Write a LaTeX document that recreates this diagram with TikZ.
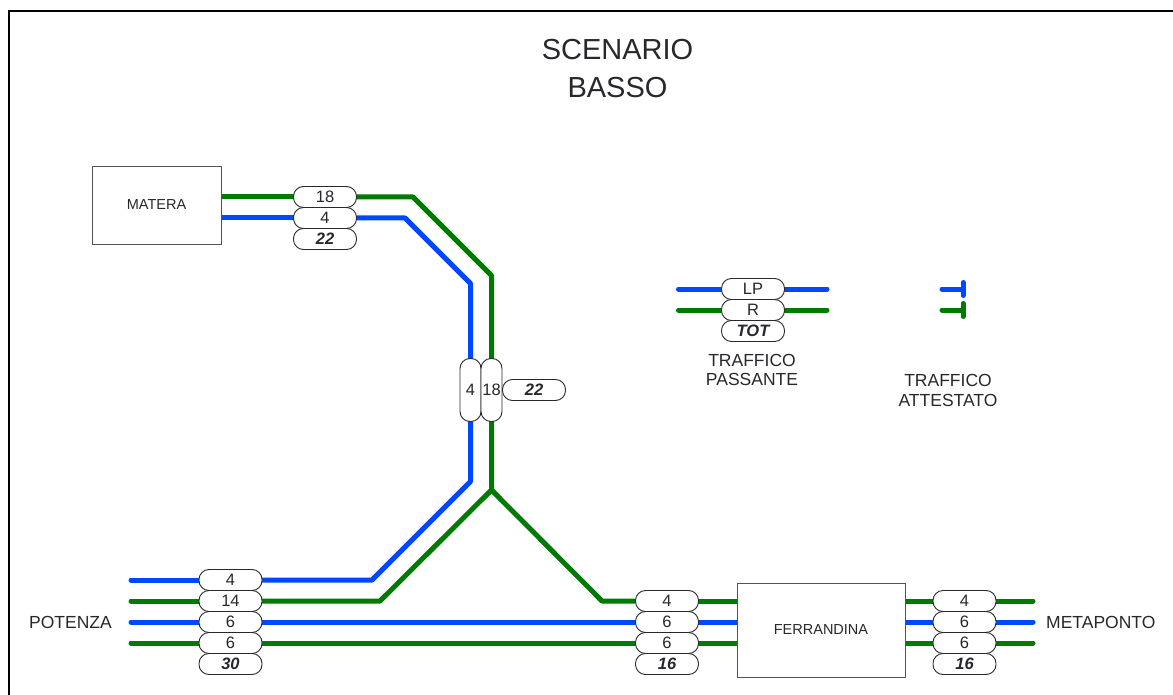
\documentclass[tikz,border=0pt]{standalone}
\usepackage{fontspec}
\setmainfont{Liberation Sans}
\definecolor{trkblue}{RGB}{0,72,255}
\definecolor{trkgreen}{RGB}{0,122,0}
\definecolor{txt}{RGB}{40,40,44}
\pgfdeclarelayer{bg}
\pgfsetlayers{bg,main}
\tikzset{
  pill/.style={draw=txt, line width=0.9pt, fill=white, rounded corners=10pt,
    minimum width=63pt, minimum height=21pt, inner sep=0pt, text=txt,
    font=\fontsize{16.5}{18}\selectfont},
  vpill/.style={pill, minimum width=21pt, minimum height=63pt},
  totpill/.style={pill, font=\fontsize{16.5}{18}\selectfont\bfseries\itshape},
  station/.style={draw=txt!80, line width=0.9pt, fill=white, inner sep=0pt, text=txt,
    font=\fontsize{14.5}{16}\selectfont},
  lbl/.style={text=txt, font=\fontsize{17.5}{19.5}\selectfont, align=center, inner sep=0pt},
  bt/.style={draw=trkblue, line width=5pt, line cap=round, line join=round},
  gt/.style={draw=trkgreen, line width=5pt, line cap=round, line join=round},
}
\begin{document}
\begin{tikzpicture}[x=1pt,y=-1pt]
\useasboundingbox (0,0) rectangle (1173,695);
% frame
\draw[line width=2pt, black] (8.7,695) -- (8.7,11) -- (1173,11);
% title
\node[lbl, font=\fontsize{29}{38}\selectfont] (title) at (617.5,69) {SCENARIO\\BASSO};
% stations
\node[station, minimum width=129pt, minimum height=78pt] (matera) at (156.5,205) {MATERA};
\node[station, minimum width=168pt, minimum height=94pt] (ferr) at (821,630) {FERRANDINA};
\node[lbl, anchor=east] (potenza) at (112,622) {POTENZA};
\node[lbl, anchor=west] (metaponto) at (1046,622) {METAPONTO};
% Matera pills
\node[pill] (m18) at (325,197) {18};
\node[pill] (m4) at (325,218) {4};
\node[totpill] (m22) at (325,239) {22};
% vertical pills
\node[vpill] (v4) at (470.5,390) {4};
\node[vpill] (v18) at (491.5,390) {18};
\node[totpill] (v22) at (534,390) {22};
% Potenza pills
\node[pill] (p4) at (230.5,580) {4};
\node[pill] (p14) at (230.5,601) {14};
\node[pill] (p6a) at (230.5,622) {6};
\node[pill] (p6b) at (230.5,643) {6};
\node[totpill] (p30) at (230.5,664) {30};
% Ferrandina west pills
\node[pill] (f4) at (667,601) {4};
\node[pill] (f6a) at (667,622) {6};
\node[pill] (f6b) at (667,643) {6};
\node[totpill] (f16) at (667,664) {16};
% Metaponto pills
\node[pill] (g4) at (964.5,601) {4};
\node[pill] (g6a) at (964.5,622) {6};
\node[pill] (g6b) at (964.5,643) {6};
\node[totpill] (g16) at (964.5,664) {16};
% legend
\node[pill] (lp) at (753,289) {LP};
\node[pill] (lr) at (753,310) {R};
\node[totpill] (ltot) at (753,331) {TOT};
\node[lbl] (lpass) at (752,370) {TRAFFICO\\PASSANTE};
\node[lbl] (latt) at (948,390.5) {TRAFFICO\\ATTESTATO};
% coordinates
\coordinate (mg1) at (413,197);
\coordinate (mg2) at (491.5,275.5);
\coordinate (mb1) at (405,218);
\coordinate (mb2) at (470.5,283.5);
\coordinate (sb1) at (470.5,481.5);
\coordinate (sb2) at (372,580);
\coordinate (apex) at (491.5,490);
\coordinate (sg1) at (380,601);
\coordinate (sg2) at (602,601);
\coordinate (l1) at (131,580);
\coordinate (l2) at (131,601);
\coordinate (l3) at (131,622);
\coordinate (l4) at (131,643);
\coordinate (r1) at (1033,601);
\coordinate (r2) at (1033,622);
\coordinate (r3) at (1033,643);
\coordinate (lb0) at (678.5,289);
\coordinate (lb1) at (827,289);
\coordinate (lg0) at (678.5,310);
\coordinate (lg1) at (827,310);
\coordinate (ab0) at (942,289);
\coordinate (ab1) at (963,289);
\coordinate (ag0) at (942,310);
\coordinate (ag1) at (963,310);
\begin{pgfonlayer}{bg}
% Matera branch
\draw[gt] (matera.east |- m18) -- (m18.west);
\draw[bt] (matera.east |- m4) -- (m4.west);
\draw[gt] (m18.east) -- (mg1) -- (mg2) -- (v18.north);
\draw[bt] (m4.east) -- (mb1) -- (mb2) -- (v4.north);
\draw[bt] (v4.south) -- (sb1) -- (sb2) -- (p4.east);
\draw[gt] (v18.south) -- (apex) -- (sg1) -- (p14.east);
\draw[gt] (apex) -- (sg2) -- (f4.west);
\draw[bt] (p6a.east) -- (f6a.west);
\draw[gt] (p6b.east) -- (f6b.west);
% Potenza stubs
\draw[bt] (l1) -- (p4.west);
\draw[gt] (l2) -- (p14.west);
\draw[bt] (l3) -- (p6a.west);
\draw[gt] (l4) -- (p6b.west);
% Ferrandina
\draw[gt] (f4.east) -- (ferr.west |- f4);
\draw[bt] (f6a.east) -- (ferr.west |- f6a);
\draw[gt] (f6b.east) -- (ferr.west |- f6b);
\draw[gt] (ferr.east |- g4) -- (g4.west);
\draw[bt] (ferr.east |- g6a) -- (g6a.west);
\draw[gt] (ferr.east |- g6b) -- (g6b.west);
\draw[gt] (g4.east) -- (r1);
\draw[bt] (g6a.east) -- (r2);
\draw[gt] (g6b.east) -- (r3);
% legend
\draw[bt] (lb0) -- (lp.west);
\draw[bt] (lp.east) -- (lb1);
\draw[gt] (lg0) -- (lr.west);
\draw[gt] (lr.east) -- (lg1);
\draw[bt] (ab0) -- (ab1);
\draw[bt] ([yshift=-6.5pt]ab1) -- ([yshift=6.5pt]ab1);
\draw[gt] (ag0) -- (ag1);
\draw[gt] ([yshift=-6.5pt]ag1) -- ([yshift=6.5pt]ag1);
\end{pgfonlayer}
\end{tikzpicture}
\end{document}
